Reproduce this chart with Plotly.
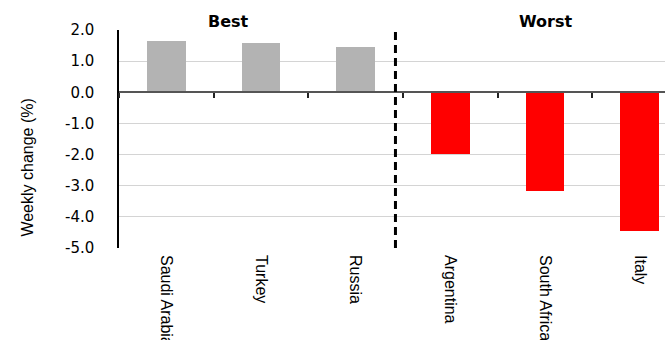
import plotly.graph_objects as go

countries = ["Saudi Arabia", "Turkey", "Russia", "Argentina", "South Africa", "Italy"]
values = [1.64, 1.57, 1.44, -1.99, -3.17, -4.44]
groups = ["best", "best", "best", "worst", "worst", "worst"]
group_colors = {"best": "#b3b3b3", "worst": "#ff0000"}
y_ticks = [2, 1, 0, -1, -2, -3, -4, -5]
y_ticktext = ["2.0", "1.0", "0.0", "-1.0", "-2.0", "-3.0", "-4.0", "-5.0"]
split_x = 2.42
headings = [("Best", 0.66), ("Worst", 4.0)]

xs = list(range(len(countries)))
xrange = [-0.5, 5.267]
yrange = [-5, 2]

fig = go.Figure()
fig.add_trace(go.Bar(
    x=xs, y=values, width=0.41,
    marker=dict(color=[group_colors[g] for g in groups], line=dict(width=0)),
    hoverinfo="skip", showlegend=False,
))
# helper trace for the zero-line axis with boundary ticks
fig.add_trace(go.Scatter(x=xs, y=values, mode="none", xaxis="x2", yaxis="y",
                         hoverinfo="skip", showlegend=False))

fig.update_layout(
    width=665, height=340,
    margin=dict(l=119, r=0, t=30, b=92, autoexpand=False),
    paper_bgcolor="white", plot_bgcolor="white",
    bargap=0,
    xaxis=dict(
        range=xrange, tickmode="array", tickvals=xs, ticktext=countries,
        tickangle=90, showgrid=False, zeroline=False, showline=False, ticks="",
        tickfont=dict(family="Liberation Sans Narrow, Liberation Sans, Arial", size=16, color="black"),
        ticklabelstandoff=6, automargin=False,
    ),
    xaxis2=dict(
        overlaying="x", anchor="free", position=5 / 7, range=xrange,
        tickmode="array", tickvals=[x - 0.5 for x in xs],
        showticklabels=False, ticks="outside", ticklen=5, tickwidth=2, tickcolor="#222",
        showline=True, linecolor="#555555", linewidth=2, showgrid=False, zeroline=False,
        automargin=False,
    ),
    yaxis=dict(
        range=yrange, tickmode="array", tickvals=y_ticks, ticktext=y_ticktext,
        showgrid=True, gridcolor="#d4d4d4", gridwidth=1, zeroline=False,
        showline=True, linecolor="black", linewidth=1.5, ticks="",
        ticklabelstandoff=20, automargin=False,
        tickfont=dict(family="DejaVu Sans", size=15, color="black"),
    ),
    shapes=[dict(type="line", xref="x", yref="paper", x0=split_x, x1=split_x, y0=0, y1=1,
                 line=dict(color="black", width=3, dash="8px,5px"))],
)

annotations = [dict(text="Weekly change (%)", xref="paper", yref="paper", x=-0.168, y=0.37,
                    textangle=-90, showarrow=False, xanchor="center", yanchor="middle",
                    font=dict(family="Liberation Sans Narrow, Liberation Sans, Arial", size=16, color="black"))]
for label, hx in headings:
    annotations.append(dict(text="<b>%s</b>" % label, xref="x", yref="paper", x=hx, y=1.037,
                            showarrow=False, xanchor="center", yanchor="middle",
                            font=dict(family="DejaVu Sans", size=16, color="black")))
fig.update_layout(annotations=annotations)

fig.write_html("out.html")
